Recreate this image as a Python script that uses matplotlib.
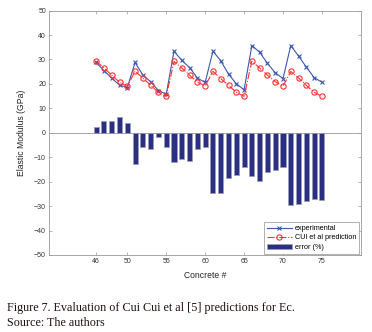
import matplotlib
matplotlib.use("Agg")
import matplotlib.pyplot as plt
import numpy as np

concrete = list(range(46, 76))
experimental = [28.8, 25.4, 22.4, 19.5, 18.5, 28.8, 23.6, 20.9, 17.3, 15.8,
                33.4, 29.6, 26.7, 22.4, 20.6, 33.4, 29.5, 24.0, 20.1, 17.6,
                35.7, 33.0, 28.4, 24.6, 22.2, 35.7, 31.4, 26.9, 22.6, 20.7]
prediction = [29.3, 26.5, 23.6, 20.7, 19.0, 25.2, 22.4, 19.5, 16.5, 14.9,
              29.2, 26.5, 23.6, 20.7, 19.2, 25.1, 22.2, 19.4, 16.6, 14.9,
              29.3, 26.5, 23.6, 20.9, 19.1, 25.1, 22.4, 19.4, 16.6, 14.9]
error = [2.3, 4.9, 4.8, 6.4, 4.0, -12.8, -6.0, -6.8, -1.6, -6.0,
         -12.1, -10.8, -11.5, -6.8, -6.0, -24.8, -24.8, -18.7, -17.3, -14.2,
         -17.6, -19.6, -16.1, -15.1, -13.9, -29.6, -29.2, -28.0, -26.9, -27.6]
xticks = [46, 50, 55, 60, 65, 70, 75]
yticks = list(range(-50, 51, 10))

plt.rcParams['font.family'] = ['Liberation Sans', 'DejaVu Sans']

fig = plt.figure(figsize=(3.72, 3.32), dpi=100)
ax = fig.add_axes([0.133, 0.232, 0.837, 0.736])

ax.bar(concrete, error, width=0.65, color='#2b2f82', edgecolor='#9a9cb8',
       linewidth=0.5, label='error (%)', zorder=2)
ax.axhline(0, color='#999999', linewidth=0.6, zorder=1)
ax.plot(concrete, experimental, '-', color='#3b57b0', marker='x',
        markersize=3.5, markeredgewidth=0.8, linewidth=0.8, label='experimental', zorder=3)
ax.plot(concrete, prediction, '-.', color='#ff3030', marker='o',
        markersize=3.8, markerfacecolor='none', markeredgewidth=0.8,
        linewidth=0.8, label='CUI et al prediction', zorder=4)

ax.set_xlim(40, 80)
ax.set_ylim(-50, 50)
ax.set_xticks(xticks)
ax.set_yticks(yticks)
ax.tick_params(direction='in', length=2.5, width=0.5, labelsize=5,
               colors='#999999', labelcolor='#333333', top=True, right=True, pad=2.5)
for s in ax.spines.values():
    s.set_color('#999999')
    s.set_linewidth(0.6)

ax.set_ylabel('Elastic Modulus (GPa)', fontsize=6.2, color='#222222', labelpad=6)
ax.set_xlabel('Concrete #', fontsize=6.2, color='#222222', labelpad=4)

leg = ax.legend(loc='lower right', fontsize=5.2, frameon=True, fancybox=False,
                edgecolor='#777777', handlelength=3.4, borderpad=0.4,
                labelspacing=0.3, handletextpad=0.5, borderaxespad=0.2)
leg.get_frame().set_linewidth(0.5)

fig.text(0.019, 0.072, 'Figure 7. Evaluation of Cui Cui et al [5] predictions for Ec.',
         fontsize=8.7, family=['Liberation Serif', 'DejaVu Serif'], color='#201010',
         va='center', ha='left')
fig.text(0.019, 0.027, 'Source: The authors',
         fontsize=8.7, family=['Liberation Serif', 'DejaVu Serif'], color='#201010',
         va='center', ha='left')

fig.savefig('out.png', dpi=100)
